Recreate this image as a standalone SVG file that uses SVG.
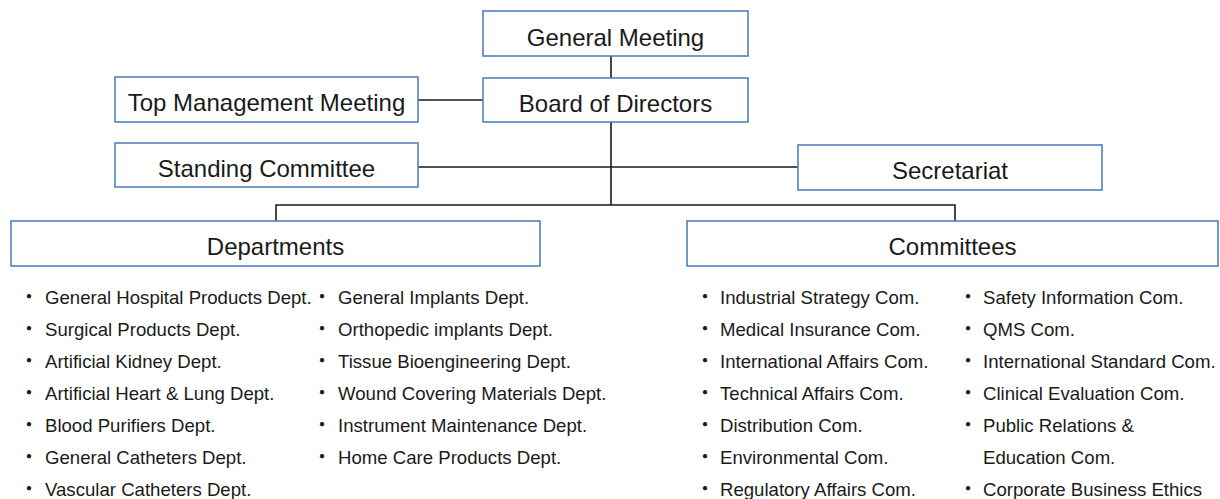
<svg xmlns="http://www.w3.org/2000/svg" width="1220" height="499" viewBox="0 0 1220 499">
<style>
.box{fill:#fff;stroke:#4f81bd;stroke-width:1.6}
.lbl{font-family:"Liberation Sans",Arial,sans-serif;font-size:24px;fill:#1a1a1a;text-anchor:middle}
.it{font-family:"Liberation Sans",Arial,sans-serif;font-size:18.6px;fill:#1a1a1a}
.bul{font-family:"Noto Sans CJK JP",sans-serif;font-size:20px;fill:#1a1a1a}
.ln{stroke:#1a1a1a;stroke-width:1.6;fill:none}
</style>
<rect width="1220" height="499" fill="#fff"/>
<g id="connectors">
<line class="ln" x1="611" y1="56" x2="611" y2="78"/>
<line class="ln" x1="418" y1="100" x2="483" y2="100"/>
<line class="ln" x1="611" y1="122" x2="611" y2="205"/>
<line class="ln" x1="418" y1="167" x2="798" y2="167"/>
<polyline class="ln" points="276,221 276,205 955,205 955,221"/>
</g>
<g id="general-meeting"><rect class="box" x="483" y="11" width="265" height="45"/><text class="lbl" x="615.5" y="45.5">General Meeting</text></g>
<g id="board"><rect class="box" x="483" y="78" width="265" height="44"/><text class="lbl" x="615.5" y="111.5">Board of Directors</text></g>
<g id="top-management"><rect class="box" x="115" y="77" width="303" height="45"/><text class="lbl" x="266.5" y="111">Top Management Meeting</text></g>
<g id="standing-committee"><rect class="box" x="115" y="143" width="303" height="44"/><text class="lbl" x="266.5" y="176.5">Standing Committee</text></g>
<g id="secretariat"><rect class="box" x="798" y="145" width="304" height="45"/><text class="lbl" x="950" y="178.5">Secretariat</text></g>
<g id="departments"><rect class="box" x="11" y="221" width="529" height="45"/><text class="lbl" x="275.5" y="254.5">Departments</text>
<g>
<text class="bul" x="19" y="304">・</text><text class="it" x="45" y="304">General Hospital Products Dept.</text>
<text class="bul" x="19" y="336">・</text><text class="it" x="45" y="336">Surgical Products Dept.</text>
<text class="bul" x="19" y="368">・</text><text class="it" x="45" y="368">Artificial Kidney Dept.</text>
<text class="bul" x="19" y="400">・</text><text class="it" x="45" y="400">Artificial Heart &amp; Lung Dept.</text>
<text class="bul" x="19" y="432">・</text><text class="it" x="45" y="432">Blood Purifiers Dept.</text>
<text class="bul" x="19" y="464">・</text><text class="it" x="45" y="464">General Catheters Dept.</text>
<text class="bul" x="19" y="496">・</text><text class="it" x="45" y="496">Vascular Catheters Dept.</text>
<text class="bul" x="312" y="304">・</text><text class="it" x="338" y="304">General Implants Dept.</text>
<text class="bul" x="312" y="336">・</text><text class="it" x="338" y="336">Orthopedic implants Dept.</text>
<text class="bul" x="312" y="368">・</text><text class="it" x="338" y="368">Tissue Bioengineering Dept.</text>
<text class="bul" x="312" y="400">・</text><text class="it" x="338" y="400">Wound Covering Materials Dept.</text>
<text class="bul" x="312" y="432">・</text><text class="it" x="338" y="432">Instrument Maintenance Dept.</text>
<text class="bul" x="312" y="464">・</text><text class="it" x="338" y="464">Home Care Products Dept.</text>
</g></g>
<g id="committees"><rect class="box" x="687" y="221" width="531" height="45"/><text class="lbl" x="952.5" y="254.5">Committees</text>
<g>
<text class="bul" x="695" y="304">・</text><text class="it" x="720" y="304">Industrial Strategy Com.</text>
<text class="bul" x="695" y="336">・</text><text class="it" x="720" y="336">Medical Insurance Com.</text>
<text class="bul" x="695" y="368">・</text><text class="it" x="720" y="368">International Affairs Com.</text>
<text class="bul" x="695" y="400">・</text><text class="it" x="720" y="400">Technical Affairs Com.</text>
<text class="bul" x="695" y="432">・</text><text class="it" x="720" y="432">Distribution Com.</text>
<text class="bul" x="695" y="464">・</text><text class="it" x="720" y="464">Environmental Com.</text>
<text class="bul" x="695" y="496">・</text><text class="it" x="720" y="496">Regulatory Affairs Com.</text>
<text class="bul" x="958" y="304">・</text><text class="it" x="983" y="304">Safety Information Com.</text>
<text class="bul" x="958" y="336">・</text><text class="it" x="983" y="336">QMS Com.</text>
<text class="bul" x="958" y="368">・</text><text class="it" x="983" y="368">International Standard Com.</text>
<text class="bul" x="958" y="400">・</text><text class="it" x="983" y="400">Clinical Evaluation Com.</text>
<text class="bul" x="958" y="432">・</text><text class="it" x="983" y="432">Public Relations &amp;</text>
<text class="it" x="983" y="464">Education Com.</text>
<text class="bul" x="958" y="496">・</text><text class="it" x="983" y="496">Corporate Business Ethics</text>
</g></g>
</svg>
